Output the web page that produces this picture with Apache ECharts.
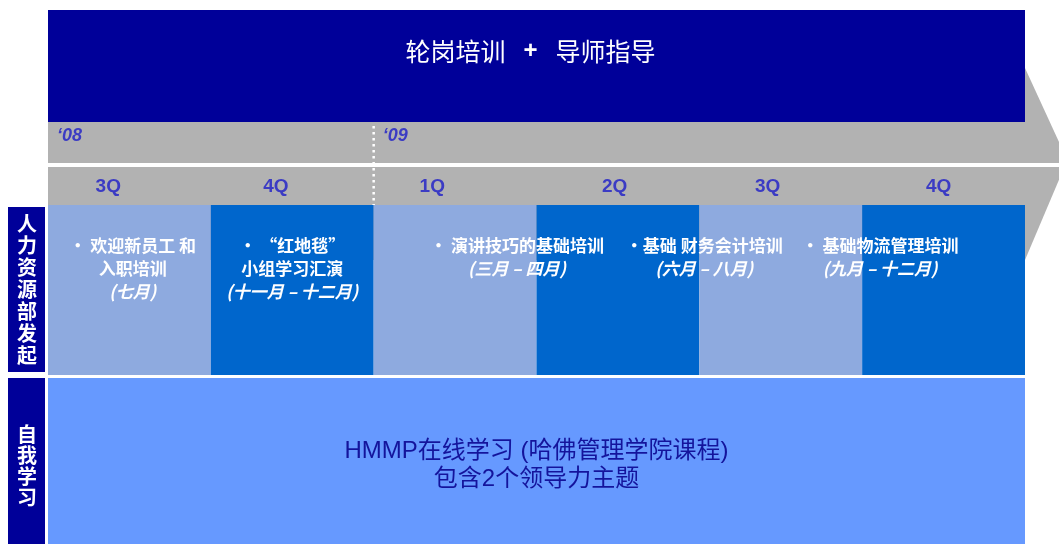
<!DOCTYPE html>
<html><head><meta charset="utf-8">
<script src="https://cdn.jsdelivr.net/npm/echarts/dist/echarts.min.js"></script>
<style>html,body{margin:0;padding:0;background:#fff}#c{width:1059px;height:544px}</style>
</head><body><div id="c"></div>
<script>
// ---- data ----
const quarterLabels = ['3Q', '4Q', '1Q', '2Q', '3Q', '4Q'];
const quarterLabelAt = [0.37, 1.40, 2.36, 3.48, 4.42, 5.47];
const yearLabels = ['‘08', '‘09'];
const yearStart = [0, 2];
const activityTitles = [
  ['• 欢迎新员工 和', '入职培训'],
  ['• “红地毯”', '小组学习汇演'],
  ['• 演讲技巧的基础培训'],
  ['•基础 财务会计培训'],
  ['• 基础物流管理培训']
];
const activityMonths = ['(七月)', '(十一月 – 十二月)', '(三月 – 四月)', '(六月 – 八月)', '(九月 – 十二月)'];
const activityAt = [0.52, 1.50, 2.88, 4.03, 5.11];
const bannerParts = ['轮岗培训', '+', '导师指导'];
const rowLabels = ['人力资源部发起', '自我学习'];
const selfLearningLines = ['HMMP在线学习 (哈佛管理学院课程)', '包含2个领导力主题'];

// ---- layout (pixel rows on the y axis) ----
const L = {
  bannerTop: 10, bannerBot: 122, yearBot: 163, qTop: 167, qBot: 205,
  hrTop: 205, hrBot: 375, selfTop: 378, selfBot: 544,
  arrowTop: 68, arrowBot: 260, arrowTipY: 160, arrowTipAt: 6.26
};
const C = {
  navy: '#000099', gray: '#B2B2B2', light: '#8EAADF', dark: '#0066CC',
  self: '#6699FF', qText: '#3B3BC4', selfText: '#14149C'
};
const FONT = '"Liberation Sans", "Noto Sans CJK SC", sans-serif';
const CJK = '"Noto Sans CJK SC", "Liberation Sans", sans-serif';

const chart = echarts.init(document.getElementById('c'), null, {renderer: 'canvas'});

function decor(params, api) {
  const x0 = api.coord([0, 0])[0], x6 = api.coord([6, 0])[0];
  const xt = api.coord([L.arrowTipAt, 0])[0];
  const y = v => api.coord([0, v])[1];
  const W = api.getWidth();
  const ch = [];
  // grey arrow
  ch.push({type: 'polygon', shape: {points: [[x0, y(L.arrowTop)], [x6, y(L.arrowTop)], [xt, y(L.arrowTipY)], [x6, y(L.arrowBot)], [x0, y(L.arrowBot)]]}, style: {fill: C.gray}});
  // banner
  ch.push({type: 'rect', shape: {x: x0, y: y(L.bannerTop), width: x6 - x0, height: y(L.bannerBot) - y(L.bannerTop)}, style: {fill: C.navy}});
  const bx = api.coord([3, 0])[0];
  ch.push({type: 'text', x: bx - 6, y: (y(L.bannerTop) + y(L.bannerBot)) / 2 - 15, style: {
    text: '{a|' + bannerParts[0] + '}{s|}{p|' + bannerParts[1] + '}{s|}{a|' + bannerParts[2] + '}',
    align: 'center', verticalAlign: 'middle',
    rich: {a: {fontSize: 25, fontFamily: CJK, fill: '#fff'}, s: {width: 18}, p: {fontSize: 24, fontWeight: 'bold', fontFamily: FONT, fill: '#fff'}}
  }});
  // white line between year row and quarter row
  ch.push({type: 'rect', shape: {x: x0, y: y(L.yearBot), width: W - x0, height: y(L.qTop) - y(L.yearBot)}, style: {fill: '#fff'}});
  // year labels & divider
  yearLabels.forEach((t, i) => {
    const xx = api.coord([yearStart[i], 0])[0];
    ch.push({type: 'text', x: xx + 9, y: 136, style: {text: t, fontSize: 18, fontWeight: 'bold', fontStyle: 'italic', fontFamily: FONT, fill: C.qText, align: 'left', verticalAlign: 'middle'}});
    if (i > 0) {
      ch.push({type: 'line', shape: {x1: xx, y1: y(L.yearBot) - 37, x2: xx, y2: y(L.qBot)}, style: {stroke: '#fff', lineWidth: 2.5, lineDash: [2.5, 3.5]}});
    }
  });
  // row label boxes
  const boxes = [[L.hrTop + 2, L.hrBot - 3], [L.selfTop, L.selfBot]];
  rowLabels.forEach((t, i) => {
    const top = y(boxes[i][0]), bot = y(boxes[i][1]);
    ch.push({type: 'rect', shape: {x: x0 - 40, y: top, width: 37, height: bot - top}, style: {fill: C.navy}});
    ch.push({type: 'text', x: x0 - 21, y: (top + bot) / 2 + (i ? 5 : 0), style: {
      text: t.split('').join('\n'), fontSize: 20, lineHeight: i ? 21 : 22, fontWeight: 'bold', fontFamily: CJK,
      fill: '#fff', align: 'center', verticalAlign: 'middle'}});
  });
  // self-learning row
  ch.push({type: 'rect', shape: {x: x0, y: y(L.selfTop), width: x6 - x0, height: y(L.selfBot) - y(L.selfTop)}, style: {fill: C.self}});
  ch.push({type: 'text', x: api.coord([3, 0])[0], y: 465, style: {
    text: selfLearningLines.join('\n'), fontSize: 24, lineHeight: 28, fontFamily: FONT,
    fill: C.selfText, align: 'center', verticalAlign: 'middle'}});
  return {type: 'group', children: ch};
}

function quarterCell(params, api) {
  const i = api.value(0);
  const a = api.coord([i, L.hrTop]), b = api.coord([i + 1, L.hrBot]);
  const q = api.coord([quarterLabelAt[i], (L.qTop + L.qBot) / 2]);
  return {type: 'group', children: [
    {type: 'rect', shape: {x: a[0], y: a[1], width: b[0] - a[0], height: b[1] - a[1]}, style: {fill: i % 2 ? C.dark : C.light}},
    {type: 'text', x: q[0], y: q[1] + 1, style: {text: quarterLabels[i], fontSize: 19, fontWeight: 'bold', fontFamily: FONT, fill: C.qText, align: 'center', verticalAlign: 'middle'}}
  ]};
}

function activity(params, api) {
  const i = api.value(0);
  const p = api.coord([activityAt[i], 234]);
  const lines = activityTitles[i].map(s => '{t|' + s + '}');
  lines.push('{m|' + activityMonths[i] + '}');
  return {type: 'text', x: p[0], y: p[1], style: {
    text: lines.join('\n'), align: 'center', verticalAlign: 'top',
    rich: {
      t: {fontSize: 17, lineHeight: 23, fontWeight: 'bold', fontFamily: CJK, fill: '#fff'},
      m: {fontSize: 17, lineHeight: 24, fontWeight: 'bold', fontStyle: 'italic', fontFamily: CJK, fill: '#fff'}
    }
  }};
}

chart.setOption({
  animation: false,
  grid: {left: 48, right: 34, top: 0, bottom: 0, show: false},
  xAxis: {type: 'value', min: 0, max: 6, show: false},
  yAxis: {type: 'value', min: 0, max: 544, inverse: true, show: false},
  series: [
    {type: 'custom', renderItem: decor, data: [[0, 0]], clip: false, silent: true, z: 1},
    {type: 'custom', renderItem: quarterCell, data: quarterLabels.map((q, i) => [i, 0]), clip: false, silent: true, z: 2},
    {type: 'custom', renderItem: activity, data: activityAt.map((v, i) => [i, 0]), clip: false, silent: true, z: 3}
  ]
});
</script>
</body></html>
